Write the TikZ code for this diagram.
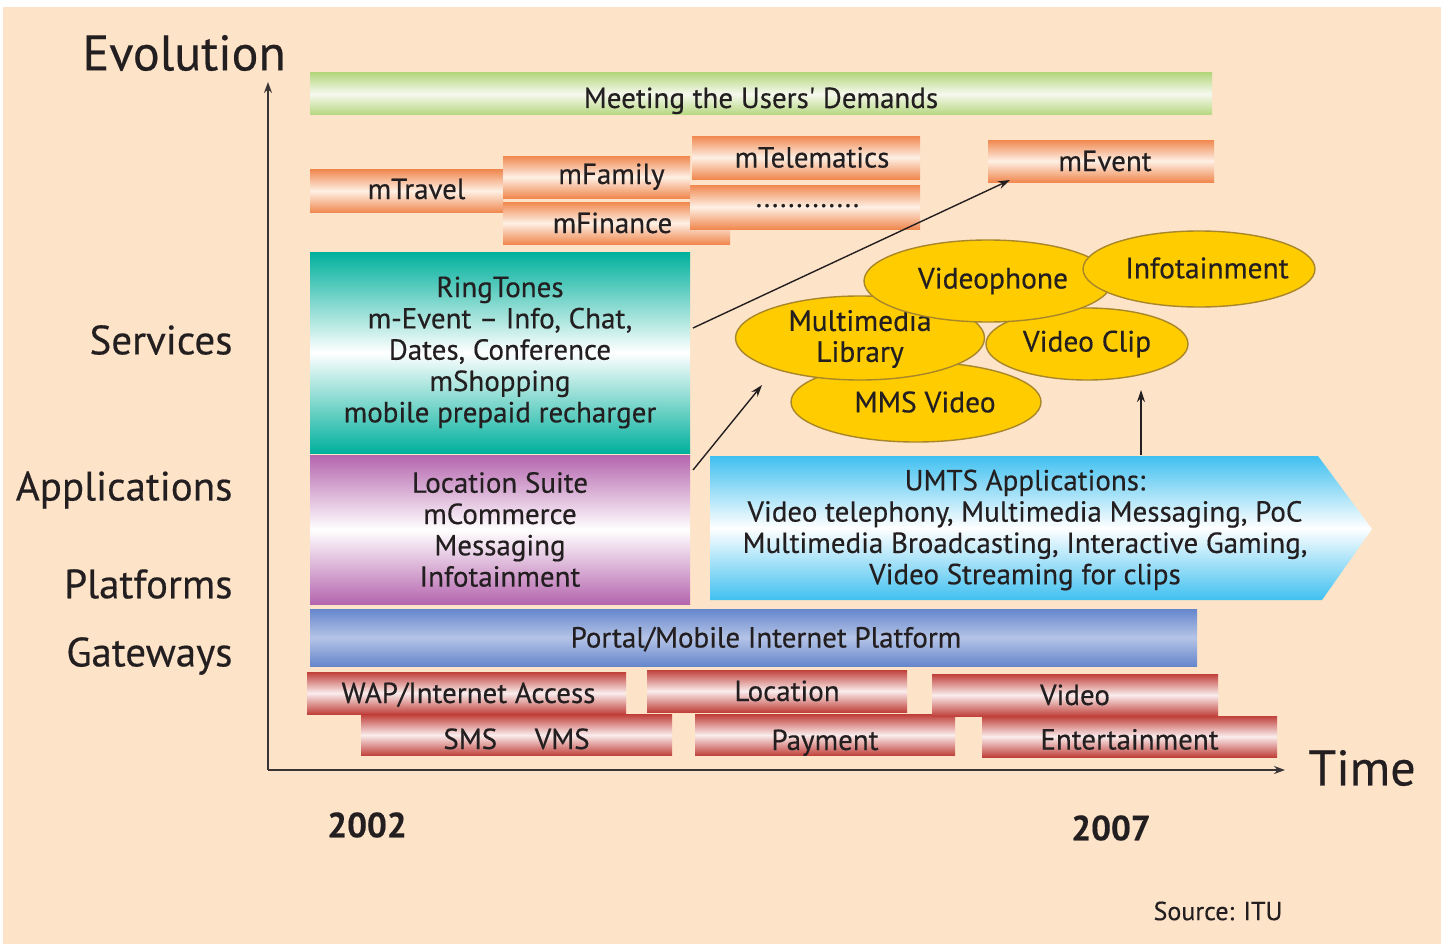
\documentclass[tikz,border=0pt]{standalone}
\usepackage{fontspec}
\setmainfont[FakeBold=0.4]{PT Sans}
\usetikzlibrary{arrows.meta,shapes.geometric}
\definecolor{bg}{HTML}{FDE3C8}
\definecolor{ink}{HTML}{231F20}
\definecolor{grE}{HTML}{B5D77E}
\definecolor{grC}{HTML}{F6F9EE}
\definecolor{orE}{HTML}{F08850}
\definecolor{orC}{HTML}{FEF0E4}
\definecolor{teE}{HTML}{00B09C}
\definecolor{puE}{HTML}{B565AE}
\definecolor{blE}{HTML}{40C0F0}
\definecolor{poE}{HTML}{6686CC}
\definecolor{poC}{HTML}{B4C4E6}
\definecolor{reE}{HTML}{C0403A}
\definecolor{reC}{HTML}{FAEDED}
\definecolor{goF}{HTML}{FFCC00}
\definecolor{goD}{HTML}{A8862A}
\tikzset{
  bar/.style={inner sep=0pt, text=ink, font=\fontsize{29}{31}\selectfont,
     text height=20pt, text depth=0pt},
  orbar/.style={bar, top color=orE, bottom color=orE, middle color=orC},
  rebar/.style={bar, top color=reE, bottom color=reE, middle color=reC},
  bigbox/.style={inner sep=0pt, text=ink, align=center, font=\fontsize{29}{31.3}\selectfont},
  oval/.style={ellipse, inner sep=0pt, draw=goD, line width=1.4pt, fill=goF},
  ovtext/.style={inner sep=0pt, text=ink, align=center, font=\fontsize{29.5}{31}\selectfont},
  axislab/.style={anchor=east, text=ink, font=\fontsize{41}{43}\selectfont},
  conn/.style={line width=1.4pt, draw=ink, -{Stealth[length=12pt,width=8pt]}},
  axis/.style={line width=2pt, draw=ink!90, -{Stealth[length=11pt,width=8pt]}}
}
\begin{document}
\begin{tikzpicture}[x=1pt,y=-1pt]
\useasboundingbox (0,0) rectangle (1447,947);
\fill[white] (0,0) rectangle (1447,947);
\fill[bg] (3,7) rectangle (1441,944);

% axes
\coordinate (origin) at (268,770);
\coordinate (ytop) at (268,82);
\coordinate (xend) at (1285,770);
\draw[axis] (origin) -- (ytop);
\draw[axis] (origin) -- (xend);

\node[anchor=west, text=ink, font=\fontsize{50}{52}\selectfont] (evo) at (79,53) {Evolution};
\node[anchor=west, text=ink, font=\fontsize{50}{52}\selectfont] (time) at (1305,768) {Time};
\node[axislab] (serv) at (236,340) {Services};
\node[axislab] (appl) at (236,490) {Applications};
\node[axislab] (plat) at (236,584) {Platforms};
\node[axislab] (gate) at (236,656) {Gateways};
\node[text=ink, font=\bfseries\fontsize{35}{37}\selectfont] (y1) at (367,825) {2002};
\node[text=ink, font=\bfseries\fontsize{35}{37}\selectfont] (y2) at (1111,828) {2007};
\node[text=ink, font=\fontsize{26}{28}\selectfont] (src) at (1218,911) {Source: ITU};

% green bar
\node[bar, top color=grE, bottom color=grE, middle color=grC,
  minimum width=902pt, minimum height=42pt] (meet) at (761,94) {\raisebox{-4pt}{Meeting the Users\textquotesingle{} Demands}};

% orange service bars
\node[orbar, minimum width=193pt, minimum height=43pt] (travel) at (406.5,191) {\hspace{20pt}\raisebox{2pt}{mTravel}};
\node[orbar, minimum width=227pt, minimum height=42pt] (finance) at (616.5,223) {\hspace{-8pt}mFinance};
\node[orbar, minimum width=230pt, minimum height=44pt, text height=0pt] (dots) at (805,207) {\hspace{5pt}.............};
\node[orbar, minimum width=187pt, minimum height=42pt] (family) at (596.5,177) {\hspace{30pt}\raisebox{3pt}{mFamily}};
\node[orbar, minimum width=228pt, minimum height=43pt] (telem) at (806,157.5) {\hspace{12pt}mTelematics};
\node[orbar, minimum width=226pt, minimum height=42pt] (event) at (1101,161) {\hspace{8pt}mEvent};

% teal box
\node[bigbox, top color=teE, bottom color=teE, middle color=white,
  minimum width=380pt, minimum height=201pt] (ring) at (500,352.5)
  {RingTones\\m-Event -- Info, Chat,\\Dates, Conference\\mShopping\\mobile prepaid recharger};
% purple box
\node[bigbox, top color=puE, bottom color=puE, middle color=white,
  minimum width=380pt, minimum height=149pt] (loc) at (500,529.5)
  {Location Suite\\mCommerce\\Messaging\\Infotainment};

% UMTS arrow
\shade[top color=blE, bottom color=blE, middle color=white]
  (710,456) -- (1318,456) -- (1372,529) -- (1322,600) -- (710,600) -- cycle;
\node[bigbox, minimum width=662pt, minimum height=144pt] (umts) at (1025,530)
  {UMTS Applications:\\Video telephony, Multimedia Messaging, PoC\\Multimedia Broadcasting, Interactive Gaming,\\Video Streaming for clips};

% portal
\node[bar, top color=poE, bottom color=poE, middle color=poC,
  minimum width=887pt, minimum height=57pt] (portal) at (753.5,637.5) {\hspace{25pt}Portal/Mobile Internet Platform};

% red gateway bars
\node[rebar, minimum width=319pt, minimum height=42pt] (wap) at (466.5,693) {\hspace{4pt}WAP/Internet Access};
\node[rebar, minimum width=311pt, minimum height=41pt] (sms) at (516.5,735) {\raisebox{-4pt}{SMS\hspace{1.3em}VMS}};
\node[rebar, minimum width=260pt, minimum height=42pt] (location) at (777,691) {\hspace{20pt}Location};
\node[rebar, minimum width=260pt, minimum height=41pt] (payment) at (825,735) {\raisebox{-5pt}{Payment}};
\node[rebar, minimum width=286pt, minimum height=42pt] (video) at (1075,695) {Video};
\node[rebar, minimum width=295pt, minimum height=41pt] (ent) at (1129.5,736.5) {\raisebox{-3pt}{Entertainment}};

% ellipses
\node[oval, minimum width=250pt, minimum height=80pt,
  label={[ovtext, xshift=9pt]center:MMS Video}] (mms) at (916,402) {};
\node[oval, minimum width=249pt, minimum height=84pt,
  label={[ovtext, yshift=-1pt]center:Multimedia\\Library}] (mlib) at (860,338) {};
\node[oval, minimum width=202pt, minimum height=72pt,
  label={[ovtext]center:Video Clip}] (vclip) at (1087,344) {};
\node[oval, minimum width=248pt, minimum height=82pt,
  label={[ovtext, xshift=5pt]center:Videophone}] (vphone) at (988,281) {};
\node[oval, minimum width=232pt, minimum height=76pt,
  label={[ovtext, xshift=8pt, yshift=1pt]center:Infotainment}] (infot) at (1199,269) {};

% connectors
\coordinate (a1s) at (693,328);
\coordinate (a1e) at (1010,180);
\coordinate (a2s) at (693,470);
\coordinate (a2e) at (762,385);
\coordinate (a3s) at (1141,455);
\coordinate (a3e) at (1141,390);
\draw[conn] (a1s) -- (a1e);
\draw[conn] (a2s) -- (a2e);
\draw[conn] (a3s) -- (a3e);
\end{tikzpicture}
\end{document}
